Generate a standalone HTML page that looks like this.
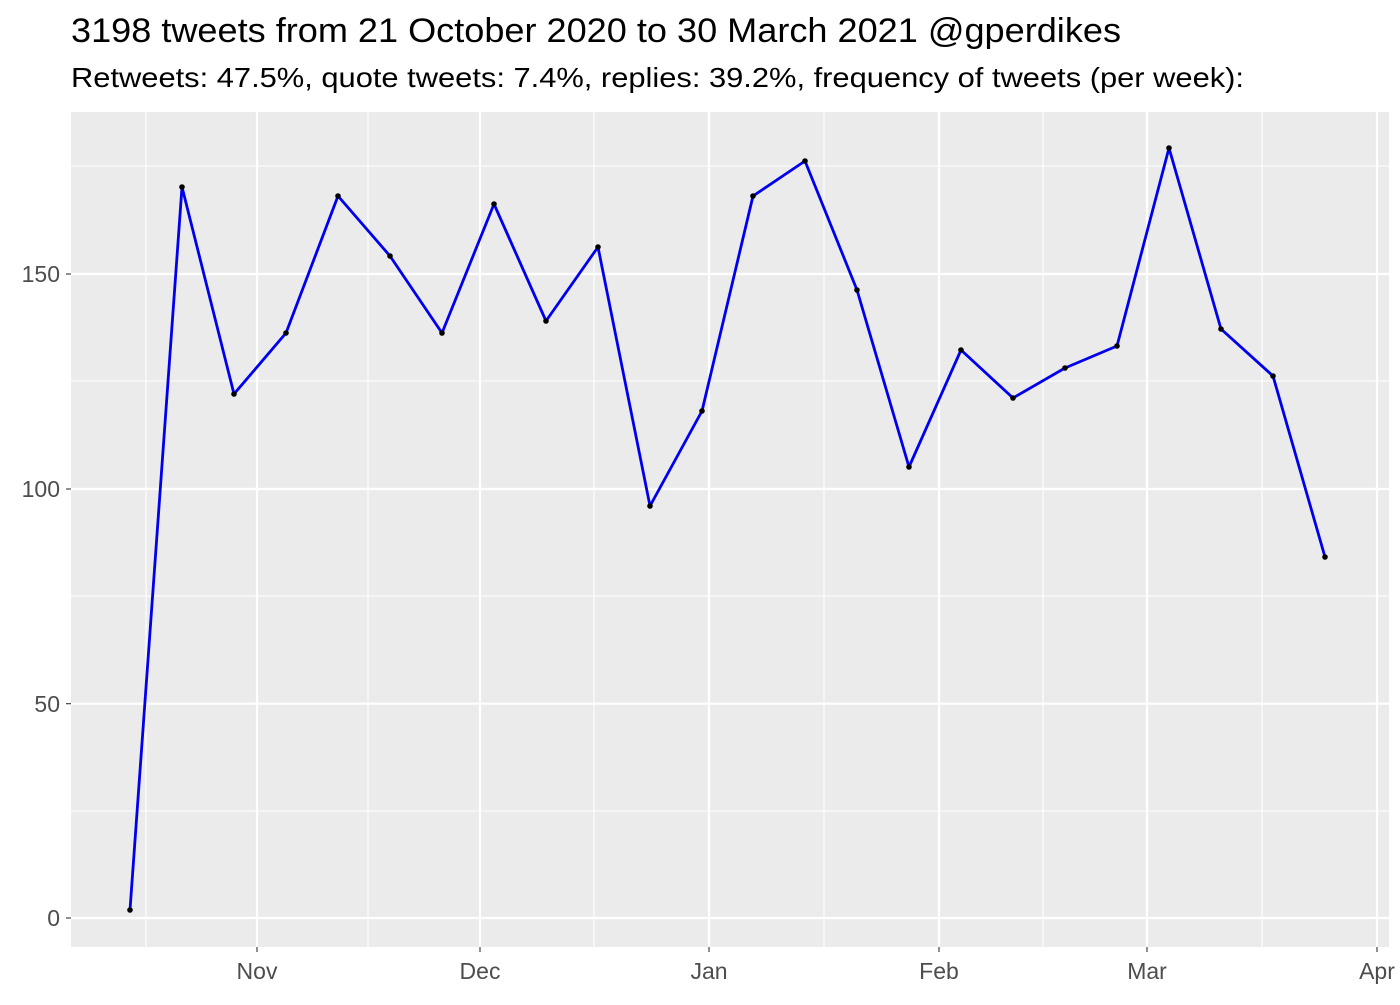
<!DOCTYPE html>
<html><head><meta charset="utf-8"><style>body{margin:0;background:#fff}</style></head><body>
<svg width="1400" height="1000" xmlns="http://www.w3.org/2000/svg" font-family="Liberation Sans, sans-serif">
<rect width="1400" height="1000" fill="#fff"/>
<text x="71" y="42" font-size="34" fill="#000" textLength="1050" lengthAdjust="spacingAndGlyphs">3198 tweets from 21 October 2020 to 30 March 2021 @gperdikes</text>
<text x="71" y="87" font-size="28" fill="#000" textLength="1173" lengthAdjust="spacingAndGlyphs">Retweets: 47.5%, quote tweets: 7.4%, replies: 39.2%, frequency of tweets (per week):</text>
<rect x="71" y="112" width="1318" height="835" fill="#ebebeb"/>
<g stroke="#fff" stroke-width="1.1">
<line x1="71" x2="1389" y1="811" y2="811"/><line x1="71" x2="1389" y1="596" y2="596"/><line x1="71" x2="1389" y1="381" y2="381"/><line x1="71" x2="1389" y1="166" y2="166"/>
<line y1="112" y2="947" x1="146" x2="146"/><line y1="112" y2="947" x1="368" x2="368"/><line y1="112" y2="947" x1="594" x2="594"/><line y1="112" y2="947" x1="824" x2="824"/><line y1="112" y2="947" x1="1043" x2="1043"/><line y1="112" y2="947" x1="1262" x2="1262"/>
</g>
<g stroke="#fff" stroke-width="2.2">
<line x1="71" x2="1389" y1="918" y2="918"/><line x1="71" x2="1389" y1="703.7" y2="703.7"/><line x1="71" x2="1389" y1="489" y2="489"/><line x1="71" x2="1389" y1="274" y2="274"/>
<line y1="112" y2="947" x1="257" x2="257"/><line y1="112" y2="947" x1="480" x2="480"/><line y1="112" y2="947" x1="709" x2="709"/><line y1="112" y2="947" x1="939" x2="939"/><line y1="112" y2="947" x1="1147" x2="1147"/><line y1="112" y2="947" x1="1377" x2="1377"/>
</g>
<g stroke="#333" stroke-width="1.1">
<line x1="66" x2="71" y1="918" y2="918"/><line x1="66" x2="71" y1="703.7" y2="703.7"/><line x1="66" x2="71" y1="489" y2="489"/><line x1="66" x2="71" y1="274" y2="274"/>
<line y1="947" y2="952" x1="257" x2="257"/><line y1="947" y2="952" x1="480" x2="480"/><line y1="947" y2="952" x1="709" x2="709"/><line y1="947" y2="952" x1="939" x2="939"/><line y1="947" y2="952" x1="1147" x2="1147"/><line y1="947" y2="952" x1="1377" x2="1377"/>
</g>
<g font-size="23" fill="#4d4d4d" text-anchor="end">
<text x="60" y="926">0</text><text x="60" y="712">50</text><text x="60" y="497">100</text><text x="60" y="282">150</text>
</g>
<g font-size="23" fill="#4d4d4d" text-anchor="middle">
<text x="257" y="979">Nov</text><text x="480" y="979">Dec</text><text x="709" y="979">Jan</text><text x="939" y="979">Feb</text><text x="1147" y="979">Mar</text><text x="1377" y="979">Apr</text>
</g>
<polyline fill="none" stroke="#0000ee" stroke-width="2.8" stroke-linejoin="round" points="130,910 182,187 234,394 286,333 338,196 390,256 442,333 494,204 546,321 598,247 650,506 702,411 753,196 805,161 857,290 909,467 961,350 1013,398 1065,368 1117,346 1169,148 1221,329 1273,376 1325,557"/>
<g fill="#000">
<circle cx="130" cy="910" r="2.8"/><circle cx="182" cy="187" r="2.8"/><circle cx="234" cy="394" r="2.8"/><circle cx="286" cy="333" r="2.8"/><circle cx="338" cy="196" r="2.8"/><circle cx="390" cy="256" r="2.8"/><circle cx="442" cy="333" r="2.8"/><circle cx="494" cy="204" r="2.8"/><circle cx="546" cy="321" r="2.8"/><circle cx="598" cy="247" r="2.8"/><circle cx="650" cy="506" r="2.8"/><circle cx="702" cy="411" r="2.8"/><circle cx="753" cy="196" r="2.8"/><circle cx="805" cy="161" r="2.8"/><circle cx="857" cy="290" r="2.8"/><circle cx="909" cy="467" r="2.8"/><circle cx="961" cy="350" r="2.8"/><circle cx="1013" cy="398" r="2.8"/><circle cx="1065" cy="368" r="2.8"/><circle cx="1117" cy="346" r="2.8"/><circle cx="1169" cy="148" r="2.8"/><circle cx="1221" cy="329" r="2.8"/><circle cx="1273" cy="376" r="2.8"/><circle cx="1325" cy="557" r="2.8"/>
</g>
</svg>
</body></html>
